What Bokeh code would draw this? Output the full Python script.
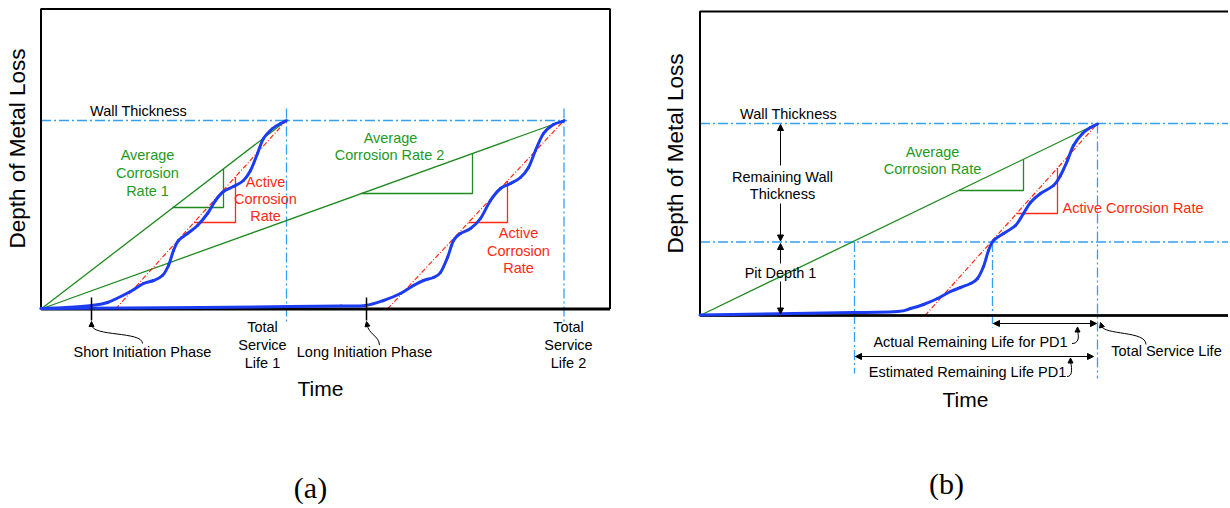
from math import pi
from bokeh.plotting import figure
from bokeh.models import Range1d, Arrow, NormalHead, ColumnDataSource
from bokeh.layouts import row
from bokeh.embed import file_html
from bokeh.resources import INLINE
from bokeh.core.properties import value

# ---------------- data (schematic units) ----------------
# Panel (a)
A_BOX_W, A_BOX_H = 569.0, 300.0
A_WALL = 188.5
A_SERVICE_LIFE = [245.5, 523.0]          # Total Service Life 1, 2
A_INITIATION = [50.5, 325.5]             # end of short / long initiation phase
A_ACTIVE_START = [74.5, 346.5]           # where active-rate line meets time axis
A_BLUE1_T = [0, 25, 50.5, 66.5, 89.5, 102.5, 112.5, 121.5, 127.5, 132.5, 137.5, 146.5,
             156.5, 166.5, 174.5, 182.5, 192.5, 202.5, 209.5, 216.5, 222.5, 231.5, 239.5, 245.5]
A_BLUE1_D = [0.5, 1.5, 3.5, 6.5, 17.5, 25.5, 28.5, 33.5, 43.5, 58.5, 68.5, 75.5,
             83.5, 95.5, 108.5, 117.5, 122.5, 128.5, 138.5, 155.5, 170.5, 180.5, 185.5, 188.5]
A_BLUE2_T = [0, 160, 250, 300, 324.5, 342.5, 359.5, 372.5, 382.5, 392.5, 399.5, 406.5, 412.5, 419.5,
             429.5, 439.5, 449.5, 459.5, 469.5, 479.5, 487.5, 494.5, 502.5, 512.5, 521.5, 523.0]
A_BLUE2_D = [0.5, 1.5, 2.5, 3.0, 3.5, 8.5, 15.5, 23.5, 28.5, 31.5, 36.5, 51.5, 68.5, 75.5,
             80.5, 90.5, 108.5, 120.5, 125.5, 131.5, 141.5, 158.5, 175.5, 184.5, 187.5, 188.5]
A_AVG_TRI = [([131.5, 182.5, 182.5], [101.5, 101.5, 140.0]),
             ([320.5, 431.5, 431.5], [115.5, 115.5, 155.5])]
A_ACT_TRI = [([153.0, 194.5, 194.5], [86.5, 86.5, 132.0]),
             ([427.5, 466.5, 466.5], [86.5, 86.5, 128.2])]

# Panel (b)
B_BOX_H = 304.0
B_WALL = 192.0
B_PIT = 73.5
B_SERVICE_LIFE = 397.5
B_ACTUAL = 292.5
B_ESTIMATED = 154.5
B_ACTIVE_START = 225.0
B_BLUE_T = [0, 153.5, 197.5, 210.5, 223.5, 237.5, 250.5, 260.5, 270.5, 277.5, 283.5, 288.5,
            293.5, 303.5, 315.5, 323.5, 330.5, 340.5, 353.5, 360.5, 367.5, 373.5, 382.5, 390.5, 397.5]
B_BLUE_D = [0.5, 3, 4, 7, 11, 17, 24, 28, 32, 37, 49, 65,
            75, 82, 90, 102, 113, 122, 130, 140, 155, 170, 182, 188, 191.5]
B_AVG_TRI = ([259.0, 323.5, 323.5], [125.0, 125.0, 156.3])
B_ACT_TRI = ([316.6, 357.5, 357.5], [102.0, 102.0, 147.5])

# ---------------- styles ----------------
FONT = value("Liberation Sans")
GREEN = "#1f8a1f"
GREEN_T = "#1f9a1f"
RED = "#ff2a14"
BLUE = "#1c3cf2"
LBLUE = "#33a0f2"
DASHDOT = "10 3 2 3"
RED_DASH = "5 2 1 2"
SMALL = "14.5px"
LABEL = "21px"
AXLAB = "22.5px"
PANEL = "30px"


def make_fig(w, h, xr, yr):
    p = figure(width=w, height=h, x_range=Range1d(*xr), y_range=Range1d(*yr),
               output_backend="svg", toolbar_location=None, title=None,
               x_axis_type=None, y_axis_type=None, min_border=0,
               min_border_left=0, min_border_right=0, min_border_top=0, min_border_bottom=0)
    p.grid.visible = False
    p.outline_line_color = None
    p.background_fill_color = "white"
    p.border_fill_color = "white"
    return p


def texts(p, items, color, size, align="center", font=FONT, angle=0.0):
    p.text(x=[i[1] for i in items], y=[i[2] for i in items], text=[i[0] for i in items],
           text_color=color, text_font_size=size, text_font=font, text_align=align,
           text_baseline="middle", angle=angle)


def arrows(p, segs, both=False, size=6):
    src = ColumnDataSource(dict(x0=[s[0] for s in segs], y0=[s[1] for s in segs],
                                x1=[s[2] for s in segs], y1=[s[3] for s in segs]))
    kw = dict(end=NormalHead(size=size, fill_color="black", line_color="black", line_width=1))
    if both:
        kw["start"] = NormalHead(size=size, fill_color="black", line_color="black", line_width=1)
    p.add_layout(Arrow(x_start="x0", y_start="y0", x_end="x1", y_end="y1", source=src,
                       line_color="black", line_width=1, **kw))


def smooth_curve(p, t, d, **style):
    """Draw a smooth curve through the read points (Catmull-Rom as Bezier segments)."""
    n = len(t)
    x0, y0, x1, y1, cx0, cy0, cx1, cy1 = ([] for _ in range(8))
    for i in range(n - 1):
        a = max(i - 1, 0)
        b = min(i + 2, n - 1)
        x0.append(t[i]); y0.append(d[i]); x1.append(t[i + 1]); y1.append(d[i + 1])
        cx0.append(t[i] + (t[i + 1] - t[a]) / 6.0)
        cy0.append(d[i] + (d[i + 1] - d[a]) / 6.0)
        cx1.append(t[i + 1] - (t[b] - t[i]) / 6.0)
        cy1.append(d[i + 1] - (d[b] - d[i]) / 6.0)
    p.bezier(x0=x0, y0=y0, x1=x1, y1=y1, cx0=cx0, cy0=cy0, cx1=cx1, cy1=cy1,
             line_cap="round", **style)


# ================= Panel (a) =================
pa = make_fig(640, 506, (-40.5, 599.5), (-197.5, 308.5))

# reference lines
pa.line([0, A_SERVICE_LIFE[1] + 3], [A_WALL, A_WALL], line_color=LBLUE, line_width=1.3, line_dash=DASHDOT)
pa.multi_line([[x, x] for x in A_SERVICE_LIFE], [[A_WALL + 12, -13.5]] * 2,
              line_color=LBLUE, line_width=1.3, line_dash=DASHDOT)

# average corrosion rate lines
pa.multi_line([[0, x] for x in A_SERVICE_LIFE], [[0, A_WALL]] * 2, line_color=GREEN, line_width=1.3)
pa.multi_line([t[0] for t in A_AVG_TRI], [t[1] for t in A_AVG_TRI], line_color=GREEN, line_width=1.3)
# active corrosion rate lines
pa.multi_line([[s, e] for s, e in zip(A_ACTIVE_START, A_SERVICE_LIFE)], [[0, A_WALL]] * 2,
              line_color=RED, line_width=1.2, line_dash=RED_DASH)
pa.multi_line([t[0] for t in A_ACT_TRI], [t[1] for t in A_ACT_TRI], line_color=RED, line_width=1.3)

# box
pa.multi_line([[0, 0, A_BOX_W, A_BOX_W]], [[0, A_BOX_H, A_BOX_H, 0]], line_color="black", line_width=2)
pa.line([0, A_BOX_W], [0, 0], line_color="black", line_width=3)

# blue depth curves
for t, d in ((A_BLUE1_T, A_BLUE1_D), (A_BLUE2_T, A_BLUE2_D)):
    smooth_curve(pa, t, d, line_color=BLUE, line_width=3)

# initiation ticks
pa.multi_line([[x, x] for x in A_INITIATION], [[11.5, -11.5]] * 2, line_color="black", line_width=1.5)

# curved pointers
pa.bezier(x0=[50.5, 326.0], y0=[-15.5, -15.5], x1=[101.5, 338.5], y1=[-34.5, -36.0],
          cx0=[50.5, 327.5], cy0=[-28.0, -25.0], cx1=[101.5, 338.0], cy1=[-22.0, -27.0],
          line_color="black", line_width=1)
arrows(pa, [(50.5, -17.5, 50.5, -12.5), (326.5, -17.5, 325.5, -12.5)], size=5)

texts(pa, [("Wall Thickness", 97.5, 198.5),
           ("Short Initiation Phase", 101.5, -42.5),
           ("Total", 221.5, -17.5), ("Service", 221.5, -35.5), ("Life 1", 221.5, -53.5),
           ("Long Initiation Phase", 323.5, -42.5),
           ("Total", 527.5, -17.5), ("Service", 527.5, -35.5), ("Life 2", 527.5, -53.5)],
      "black", SMALL)
texts(pa, [("Average", 106.5, 154.5), ("Corrosion", 106.5, 136.5), ("Rate 1", 106.5, 118.5),
           ("Average", 349.5, 171.5), ("Corrosion Rate 2", 348.5, 154.5)], GREEN_T, SMALL)
texts(pa, [("Active", 224.5, 127.5), ("Corrosion", 224.5, 110.5), ("Rate", 224.5, 93.5),
           ("Active", 477.5, 76.5), ("Corrosion", 477.5, 58.5), ("Rate", 477.5, 41.5)], RED, SMALL)
texts(pa, [("Time", 279.5, -79.5)], "black", LABEL)
texts(pa, [("Depth of Metal Loss", -23.5, 160.5)], "black", AXLAB, angle=pi / 2)
texts(pa, [("(a)", 269.5, -178.0)], "black", PANEL, font=value("Liberation Serif"))

# ================= Panel (b) =================
pb = make_fig(588, 506, (-59.5, 528.5), (-191.0, 315.0))

pb.multi_line([[0, 528.5], [0, 528.5]], [[B_WALL, B_WALL], [B_PIT, B_PIT]],
              line_color=LBLUE, line_width=1.3, line_dash=DASHDOT)
pb.multi_line([[B_ESTIMATED, B_ESTIMATED], [B_ACTUAL, B_ACTUAL], [B_SERVICE_LIFE, B_SERVICE_LIFE]],
              [[B_PIT, -58], [B_PIT, -12], [B_WALL, -63]],
              line_color=LBLUE, line_width=1.3, line_dash=DASHDOT)

pb.line([0, B_SERVICE_LIFE], [0, B_WALL], line_color=GREEN, line_width=1.3)
pb.line(B_AVG_TRI[0], B_AVG_TRI[1], line_color=GREEN, line_width=1.3)
pb.line([B_ACTIVE_START, B_SERVICE_LIFE], [0, B_WALL], line_color=RED, line_width=1.2, line_dash=RED_DASH)
pb.line(B_ACT_TRI[0], B_ACT_TRI[1], line_color=RED, line_width=1.3)

pb.line([528.5, 0, 0, 528.5], [B_BOX_H, B_BOX_H, 0, 0], line_color="black", line_width=2)
pb.line([0, 528.5], [0, 0], line_color="black", line_width=2.5)

smooth_curve(pb, B_BLUE_T, B_BLUE_D, line_color=BLUE, line_width=3)

# vertical double arrows (remaining wall / pit depth)
arrows(pb, [(80.5, 150, 80.5, B_WALL - 1), (80.5, 112, 80.5, B_PIT + 1),
            (80.5, 52, 80.5, B_PIT - 1.5), (80.5, 34, 80.5, 1.5)], size=6)
# horizontal double arrows (remaining life)
arrows(pb, [(B_ACTUAL + 1, -8, B_SERVICE_LIFE - 1, -8), (B_ESTIMATED + 1, -41, 393.5, -41)],
       both=True, size=6)
# hooks
pb.bezier(x0=[377.5, 370.5, 401.0], y0=[-15.0, -46.0, -10.0],
          x1=[372.0, 367.0, 446.0], y1=[-28.0, -61.0, -29.0],
          cx0=[379.5, 372.5, 404.0], cy0=[-23.0, -55.0, -20.0],
          cx1=[378.0, 372.0, 446.0], cy1=[-28.0, -61.0, -15.0],
          line_color="black", line_width=1)
arrows(pb, [(377.5, -16.5, 377.5, -11.5), (370.5, -47.5, 370.5, -42.5), (402.0, -12.0, 400.5, -7.0)], size=5)

texts(pb, [("Wall Thickness", 88.5, 202.0),
           ("Remaining Wall", 82.5, 139.0), ("Thickness", 82.5, 122.0),
           ("Pit Depth 1", 80.5, 43.0),
           ("Actual Remaining Life for PD1", 270.5, -26.0),
           ("Estimated Remaining Life PD1", 267.5, -56.0),
           ("Total Service Life", 466.5, -35.0)], "black", SMALL)
texts(pb, [("Average", 232.5, 164.0), ("Corrosion Rate", 232.5, 147.0)], GREEN_T, SMALL)
texts(pb, [("Active Corrosion Rate", 362.5, 108.0)], RED, SMALL, align="left")
texts(pb, [("Time", 265.5, -84.0)], "black", LABEL)
texts(pb, [("Depth of Metal Loss", -24.5, 162.0)], "black", AXLAB, angle=pi / 2)
texts(pb, [("(b)", 246.5, -168.0)], "black", PANEL, font=value("Liberation Serif"))

layout = row(pa, pb, spacing=0)
open("out.html", "w").write(file_html(layout, INLINE))
